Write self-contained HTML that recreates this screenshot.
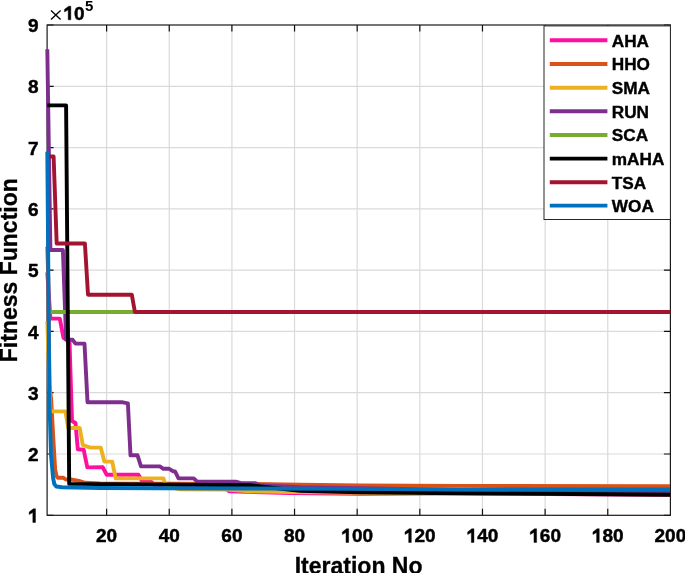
<!DOCTYPE html>
<html><head><meta charset="utf-8"><style>
html,body{margin:0;padding:0;background:#fff;overflow:hidden}
svg{display:block;will-change:transform}
.t{font-family:"Liberation Sans",sans-serif;font-weight:bold;font-size:19px;fill:#000;stroke:#000;stroke-width:0.45px}
.g{font-family:"Liberation Sans",sans-serif;font-weight:bold;font-size:17.2px;fill:#000;stroke:#000;stroke-width:0.4px}
.x{font-family:"Liberation Sans",sans-serif;font-size:17.6px;fill:#000}
.s{font-family:"Liberation Sans",sans-serif;font-weight:bold;font-size:15px;fill:#000}
.l{font-family:"Liberation Sans",sans-serif;font-weight:bold;font-size:23px;fill:#000;stroke:#000;stroke-width:0.3px}
</style></head><body>
<svg width="685" height="573" viewBox="0 0 685 573">
<rect width="685" height="573" fill="#fff"/>
<path d="M106.61 25.0V515.3M169.25 25.0V515.3M231.90 25.0V515.3M294.54 25.0V515.3M357.18 25.0V515.3M419.83 25.0V515.3M482.47 25.0V515.3M545.11 25.0V515.3M607.76 25.0V515.3M47.1 454.01H670.4M47.1 392.72H670.4M47.1 331.44H670.4M47.1 270.15H670.4M47.1 208.86H670.4M47.1 147.57H670.4M47.1 86.29H670.4" stroke="#dadada" stroke-width="1.2" fill="none"/>
<path d="M106.61 515.3v-6.5M106.61 25.0v6.5M169.25 515.3v-6.5M169.25 25.0v6.5M231.90 515.3v-6.5M231.90 25.0v6.5M294.54 515.3v-6.5M294.54 25.0v6.5M357.18 515.3v-6.5M357.18 25.0v6.5M419.83 515.3v-6.5M419.83 25.0v6.5M482.47 515.3v-6.5M482.47 25.0v6.5M545.11 515.3v-6.5M545.11 25.0v6.5M607.76 515.3v-6.5M607.76 25.0v6.5M47.1 515.30h6.5M670.4 515.30h-6.5M47.1 454.01h6.5M670.4 454.01h-6.5M47.1 392.72h6.5M670.4 392.72h-6.5M47.1 331.44h6.5M670.4 331.44h-6.5M47.1 270.15h6.5M670.4 270.15h-6.5M47.1 208.86h6.5M670.4 208.86h-6.5M47.1 147.57h6.5M670.4 147.57h-6.5M47.1 86.29h6.5M670.4 86.29h-6.5M47.1 25.00h6.5M670.4 25.00h-6.5" stroke="#111" stroke-width="1.2" fill="none"/>
<rect x="47.1" y="25.0" width="623.30" height="490.30" stroke="#1a1a1a" stroke-width="1.2" fill="none"/>
<g fill="none" stroke-width="3.9" stroke-linejoin="round" stroke-linecap="butt">
<polyline points="47.3,272.4 50.4,318.6 59.8,318.6 63.5,338.0 69.5,341.0 72.0,421.0 75.5,423.0 77.8,449.3 83.7,449.8 87.3,467.4 102.7,467.3 106.7,474.7 138.4,474.7 141.9,480.8 151.0,481.6 155.0,485.5 224.0,487.5 229.0,491.3 290.0,493.0 360.0,493.7 460.0,493.4 670.0,494.7" stroke="#FF0FA0"/>
<polyline points="47.3,246.8 48.3,280.0 48.8,330.0 49.5,385.0 51.2,400.0 53.4,440.0 55.2,470.0 56.5,476.0 57.8,477.7 63.1,477.7 65.8,479.5 71.0,479.5 78.9,480.8 85.0,482.8 100.0,483.5 250.0,484.0 300.0,484.6 360.0,485.4 460.0,485.9 670.0,486.3" stroke="#D95319"/>
<polyline points="47.3,321.0 50.4,411.4 65.4,411.4 68.2,428.0 79.7,428.0 82.8,445.0 90.3,447.6 100.7,447.6 104.4,461.6 112.2,461.6 115.7,478.4 163.4,478.4 166.0,486.0 180.0,489.3 227.0,489.6 250.0,491.3 290.0,492.0 360.0,492.8 670.0,494.3" stroke="#EDB120"/>
<polyline points="47.3,49.3 50.4,250.0 62.9,250.0 66.1,339.8 72.7,339.8 75.5,343.6 84.5,343.6 87.5,402.2 121.8,402.2 127.9,403.4 130.5,455.3 137.5,455.3 141.0,466.4 159.9,466.4 163.4,468.8 169.2,468.8 173.3,471.4 175.0,471.4 178.5,478.4 193.7,478.4 197.2,481.7 235.8,481.7 241.1,483.1 255.1,483.1 259.5,485.2 300.0,487.3 460.0,490.0 670.0,491.6" stroke="#7E2F8E"/>
<polyline points="47.3,312.0 134.9,312.0" stroke="#77AC30"/>
<polyline points="47.3,105.4 66.1,105.4 69.2,483.9 250.0,485.3 300.0,490.9 360.0,492.3 460.0,493.2 670.0,494.8" stroke="#000000"/>
<polyline points="47.3,156.5 53.6,156.5 56.7,243.5 84.9,243.5 88.0,294.7 131.8,294.7 134.9,312.0 670.4,312.0" stroke="#A2142F"/>
<polyline points="47.3,151.8 49.4,400.0 51.0,455.0 53.1,478.0 54.3,484.0 56.3,486.5 62.0,487.2 100.0,488.0 160.0,488.3 250.0,488.5 350.0,488.9 460.0,489.6 670.0,489.4" stroke="#0072BD"/>
</g>
<rect x="544.0" y="25.9" width="126.4" height="193.6" fill="#fff" stroke="#262626" stroke-width="1"/>
<line x1="549.8" x2="607.4" y1="40.3" y2="40.3" stroke="#FF0FA0" stroke-width="3.9"/>
<text x="611.8" y="46.6" class="g">AHA</text>
<line x1="549.8" x2="607.4" y1="64.0" y2="64.0" stroke="#D95319" stroke-width="3.9"/>
<text x="611.8" y="70.3" class="g">HHO</text>
<line x1="549.8" x2="607.4" y1="87.7" y2="87.7" stroke="#EDB120" stroke-width="3.9"/>
<text x="611.8" y="94.0" class="g">SMA</text>
<line x1="549.8" x2="607.4" y1="111.3" y2="111.3" stroke="#7E2F8E" stroke-width="3.9"/>
<text x="611.8" y="117.6" class="g">RUN</text>
<line x1="549.8" x2="607.4" y1="135.0" y2="135.0" stroke="#77AC30" stroke-width="3.9"/>
<text x="611.8" y="141.3" class="g">SCA</text>
<line x1="549.8" x2="607.4" y1="158.6" y2="158.6" stroke="#000000" stroke-width="3.9"/>
<text x="611.8" y="164.9" class="g">mAHA</text>
<line x1="549.8" x2="607.4" y1="182.2" y2="182.2" stroke="#A2142F" stroke-width="3.9"/>
<text x="611.8" y="188.5" class="g">TSA</text>
<line x1="549.8" x2="607.4" y1="205.6" y2="205.6" stroke="#0072BD" stroke-width="3.9"/>
<text x="611.8" y="211.9" class="g">WOA</text>
<text x="106.61" y="542.4" class="t" text-anchor="middle">20</text>
<text x="169.25" y="542.4" class="t" text-anchor="middle">40</text>
<text x="231.90" y="542.4" class="t" text-anchor="middle">60</text>
<text x="294.54" y="542.4" class="t" text-anchor="middle">80</text>
<text x="351.90" y="542.4" class="t">00</text>
<text x="414.54" y="542.4" class="t">20</text>
<text x="477.19" y="542.4" class="t">40</text>
<text x="539.83" y="542.4" class="t">60</text>
<text x="602.47" y="542.4" class="t">80</text>
<text x="670.40" y="542.4" class="t" text-anchor="middle">200</text>
<text x="38.7" y="461.11" class="t" text-anchor="end">2</text>
<text x="38.7" y="399.82" class="t" text-anchor="end">3</text>
<text x="38.7" y="338.54" class="t" text-anchor="end">4</text>
<text x="38.7" y="277.25" class="t" text-anchor="end">5</text>
<text x="38.7" y="215.96" class="t" text-anchor="end">6</text>
<text x="38.7" y="154.67" class="t" text-anchor="end">7</text>
<text x="38.7" y="93.39" class="t" text-anchor="end">8</text>
<text x="38.7" y="32.10" class="t" text-anchor="end">9</text>
<path d="M346.04 542.40L348.65 542.40L348.65 528.80L346.56 528.80L342.38 531.95L342.38 534.51L346.04 532.42ZM408.69 542.40L411.29 542.40L411.29 528.80L409.20 528.80L405.02 531.95L405.02 534.51L408.69 532.42ZM471.33 542.40L473.93 542.40L473.93 528.80L471.84 528.80L467.66 531.95L467.66 534.51L471.33 532.42ZM533.97 542.40L536.58 542.40L536.58 528.80L534.49 528.80L530.31 531.95L530.31 534.51L533.97 532.42ZM596.62 542.40L599.22 542.40L599.22 528.80L597.13 528.80L592.95 531.95L592.95 534.51L596.62 532.42ZM32.84 522.40L35.45 522.40L35.45 508.80L33.36 508.80L29.18 511.95L29.18 514.51L32.84 512.42ZM68.21 19.80L70.81 19.80L70.81 6.20L68.72 6.20L64.55 9.35L64.55 11.92L68.21 9.83Z" fill="#000" stroke="#000" stroke-width="0.45" stroke-linejoin="round"/>
<path d="M51 10.5L60.6 19.6M60.6 10.5L51 19.6" stroke="#000" stroke-width="1.35"/><text x="74.07" y="19.8" class="t">0</text><text x="84.9" y="10.9" class="s">5</text>
<text x="358.6" y="573.6" class="l" text-anchor="middle">Iteration No</text>
<text transform="translate(16.8,270.2) rotate(-90)" class="l" text-anchor="middle">Fitness Function</text>
</svg>
</body></html>
